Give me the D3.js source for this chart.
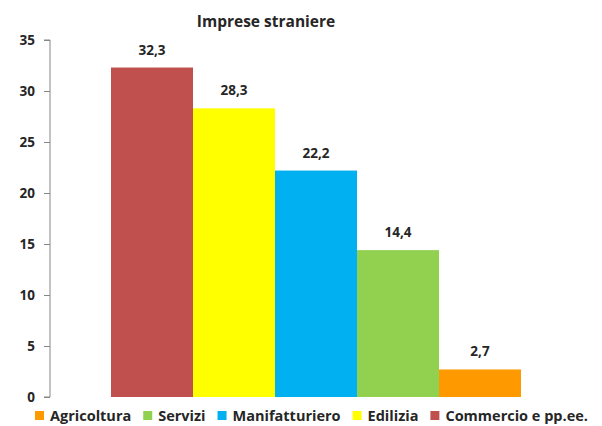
<!DOCTYPE html>
<html lang="it">
<head>
<meta charset="utf-8">
<title>Imprese straniere</title>
<style>
  body { margin: 0; background: #fff; }
  text { font-family: "Open Sans", Lato, sans-serif; font-weight: bold; fill: #262626; }
  .tick text { font-size: 13.5px; fill: #262626; }
</style>
</head>
<body>
<div id="chart"></div>
<script src="https://cdn.jsdelivr.net/npm/d3@7"></script>
<script>
// data
var categories = ['Commercio e pp.ee.', 'Edilizia', 'Manifatturiero', 'Servizi', 'Agricoltura'];
var values = [32.3, 28.3, 22.2, 14.4, 2.7];
var colors = ['#C0504D', '#FFFF00', '#00B0F0', '#92D050', '#FF9900'];
var legendOrder = ['Agricoltura', 'Servizi', 'Manifatturiero', 'Edilizia', 'Commercio e pp.ee.'];
var yTicks = [0, 5, 10, 15, 20, 25, 30, 35];

var width = 602, height = 426;
var plotLeft = 50, plotRight = 582, plotTop = 40, plotBottom = 397;

var svg = d3.select('#chart').append('svg')
    .attr('width', width)
    .attr('height', height);

var x = d3.scaleBand()
    .domain(categories)
    .range([plotLeft, plotRight])
    .paddingInner(0)
    .paddingOuter(0.744);

var y = d3.scaleLinear()
    .domain([0, 35])
    .range([plotBottom, plotTop]);

var color = d3.scaleOrdinal().domain(categories).range(colors);

var data = categories.map(function (c, i) { return { name: c, value: values[i] }; });

// bars
svg.selectAll('rect.bar').data(data).enter()
    .append('rect')
    .attr('class', 'bar')
    .attr('x', function (d) { return x(d.name); })
    .attr('y', function (d) { return y(d.value); })
    .attr('width', x.bandwidth())
    .attr('height', function (d) { return plotBottom - y(d.value); })
    .attr('fill', function (d) { return color(d.name); });

// value labels
svg.selectAll('text.val').data(data).enter()
    .append('text')
    .attr('class', 'val')
    .attr('x', function (d) { return x(d.name) + x.bandwidth() / 2; })
    .attr('y', function (d) { return y(d.value) - 13; })
    .attr('text-anchor', 'middle')
    .style('font-size', '13.5px')
    .text(function (d) { return String(d.value).replace('.', ','); });

// y axis
var yAxis = d3.axisLeft(y).tickValues(yTicks).tickSize(6).tickPadding(9);
var gy = svg.append('g')
    .attr('transform', 'translate(' + plotLeft + ',0)')
    .call(yAxis);
gy.select('.domain').attr('stroke', '#868686')
    .attr('d', 'M-6,' + plotTop + 'H0V' + plotBottom + 'H-6');
gy.selectAll('.tick line').attr('stroke', '#868686');

// title
svg.append('text')
    .attr('x', 266)
    .attr('y', 27)
    .attr('text-anchor', 'middle')
    .style('font-size', '15.5px')
    .text('Imprese straniere');

// legend
var legend = svg.append('g').attr('transform', 'translate(35,416)');
var lx = 0;
legendOrder.forEach(function (name) {
    var item = legend.append('g').attr('transform', 'translate(' + lx + ',0)');
    item.append('rect')
        .attr('x', 0).attr('y', -5)
        .attr('width', 9).attr('height', 9)
        .attr('fill', color(name));
    var t = item.append('text')
        .attr('x', 15).attr('y', 5)
        .style('font-size', '14.5px')
        .text(name);
    lx += 15 + t.node().getComputedTextLength() + 12;
});
</script>
</body>
</html>
